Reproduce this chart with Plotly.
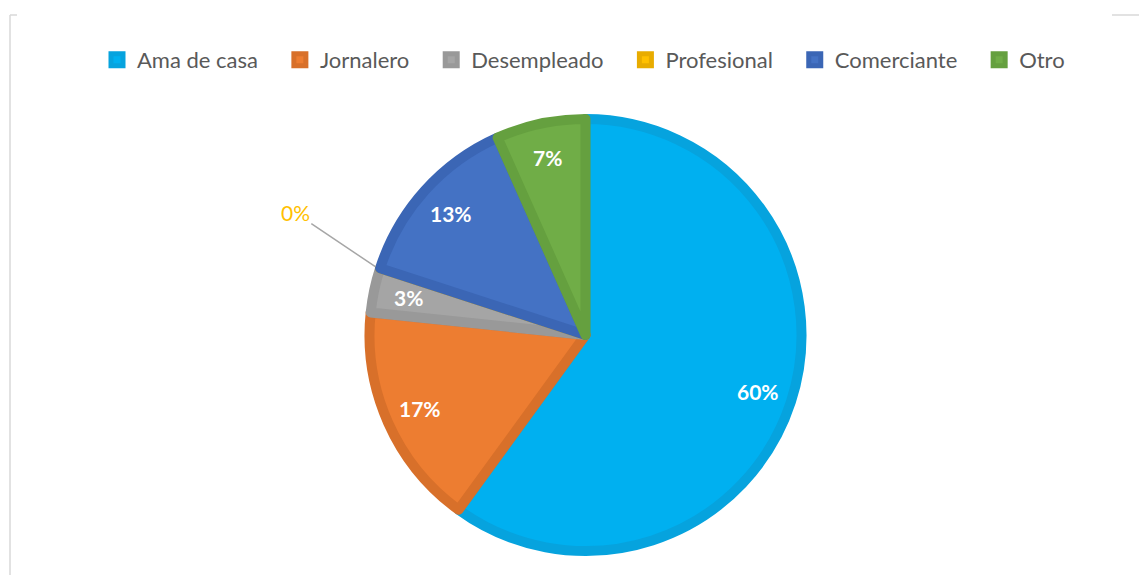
import math
import plotly.graph_objects as go

categories = ["Ama de casa", "Jornalero", "Desempleado", "Profesional", "Comerciante", "Otro"]
counts = [18, 5, 1, 0, 4, 2]
fill_colors = ["#00B0F0", "#ED7D31", "#A5A5A5", "#FFC000", "#4472C4", "#70AD47"]
border_colors = ["#06A3DE", "#D8702A", "#999999", "#E8AC00", "#3B66B5", "#65A03F"]

# figure size (page body adds an 8px margin)
W, H = 1131, 567
OFF = 8


def px(x):
    return (x - OFF) / W


def py(y):
    return 1 - (y - OFF) / H


# pie geometry (pixels in page)
BW = 10
CX, CY, R = 585.5, 335, 221 - BW / 2

fig = go.Figure(go.Pie(
    labels=[c + "\u00a0\u00a0\u00a0" for c in categories],
    values=counts,
    sort=False,
    direction="clockwise",
    rotation=0,
    marker=dict(colors=fill_colors, line=dict(color=border_colors, width=BW)),
    textinfo="none",
    hoverinfo="label+percent",
    domain=dict(x=[px(CX - R), px(CX + R)], y=[py(CY + R), py(CY - R)]),
))

# percentage labels placed along each slice's mid angle
total = sum(counts)
annotations = []
cum = 0
for name, v in zip(categories, counts):
    pct = v / total
    if v > 0:
        theta = math.radians(360 * (cum + v / 2) / total)
        r = 0.84 * R
        annotations.append(dict(
            x=px(CX + r * math.sin(theta)), y=py(CY - r * math.cos(theta)),
            xref="paper", yref="paper", showarrow=False,
            xanchor="center", yanchor="middle",
            text=f"<b>{pct:.0%}</b>",
            font=dict(family="Lato", size=21, color="white"),
        ))
    else:
        theta = math.radians(360 * cum / total)
        r = R + BW / 2
        annotations.append(dict(
            x=px(CX + r * math.sin(theta)), y=py(CY - r * math.cos(theta)),
            xref="paper", yref="paper", showarrow=True,
            arrowhead=0, arrowwidth=1.5, arrowcolor="#A6A6A6",
            ax=-80, ay=-54,
            text=f"{pct:.0%}",
            font=dict(family="Lato", size=21, color="#FFC000"),
        ))
    cum += v

fig.update_layout(
    width=W, height=H,
    margin=dict(l=0, r=0, t=0, b=0),
    paper_bgcolor="white",
    showlegend=True,
    legend=dict(
        orientation="h", x=px(592), xanchor="center", y=py(60), yanchor="middle",
        font=dict(family="Lato", size=22, color="#595959"),
        traceorder="normal",
    ),
    annotations=annotations,
    shapes=[
        dict(type="line", xref="paper", yref="paper", x0=px(10), x1=px(10), y0=0, y1=py(15),
             line=dict(color="#D9D9D9", width=1.5)),
        dict(type="line", xref="paper", yref="paper", x0=px(10), x1=px(17), y0=py(15), y1=py(15),
             line=dict(color="#D9D9D9", width=1.5)),
        dict(type="line", xref="paper", yref="paper", x0=px(1112), x1=1, y0=py(15), y1=py(15),
             line=dict(color="#D9D9D9", width=1.5)),
    ],
)

fig.write_html("out.html")
